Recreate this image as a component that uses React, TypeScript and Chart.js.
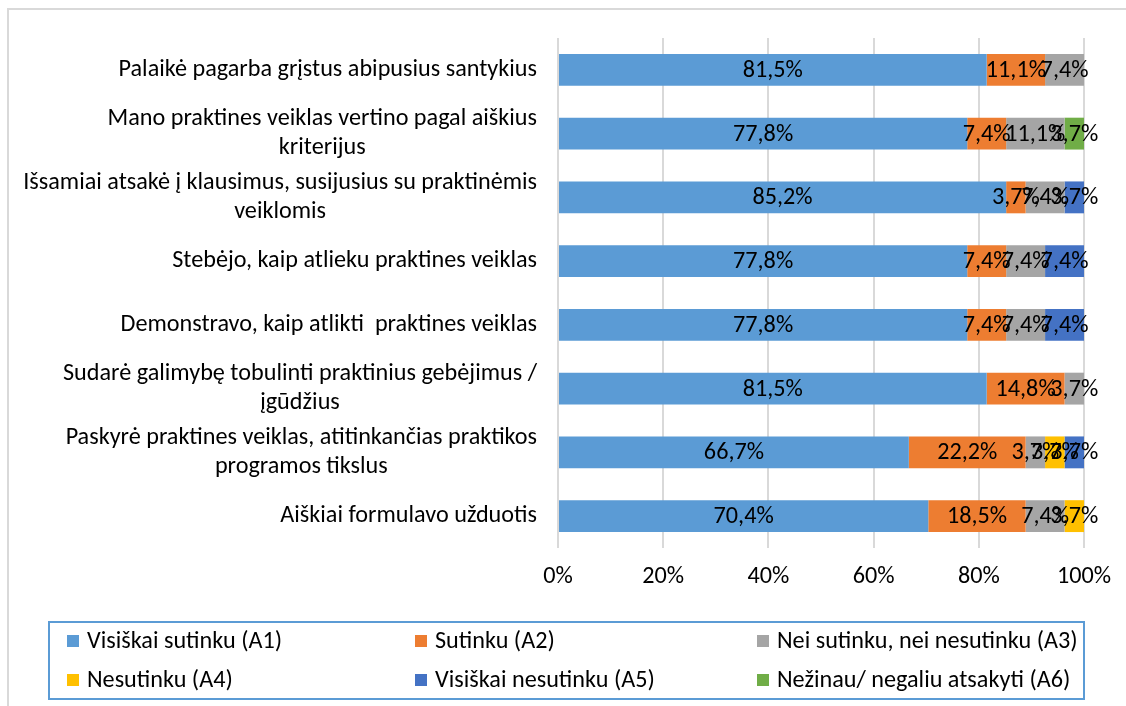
import React, { useEffect, useRef } from 'react';
import { Chart, registerables } from 'chart.js';

Chart.register(...registerables);

const categories: string[][] = [
  ['Palaikė pagarba grįstus abipusius santykius'],
  ['Mano praktines veiklas vertino pagal aiškius', 'kriterijus'],
  ['Išsamiai atsakė į klausimus, susijusius su praktinėmis', 'veiklomis'],
  ['Stebėjo, kaip atlieku praktines veiklas'],
  ['Demonstravo, kaip atlikti  praktines veiklas'],
  ['Sudarė galimybę tobulinti praktinius gebėjimus /', 'įgūdžius'],
  ['Paskyrė praktines veiklas, atitinkančias praktikos', 'programos tikslus'],
  ['Aiškiai formulavo užduotis'],
];

const seriesNames = [
  'Visiškai sutinku (A1)',
  'Sutinku (A2)',
  'Nei sutinku, nei nesutinku (A3)',
  'Nesutinku (A4)',
  'Visiškai nesutinku (A5)',
  'Nežinau/ negaliu atsakyti (A6)',
];

const seriesColors = ['#5b9bd5', '#ed7d31', '#a5a5a5', '#ffc000', '#4472c4', '#70ad47'];

const a1 = [81.5, 77.8, 85.2, 77.8, 77.8, 81.5, 66.7, 70.4];
const a2 = [11.1, 7.4, 3.7, 7.4, 7.4, 14.8, 22.2, 18.5];
const a3 = [7.4, 11.1, 7.4, 7.4, 7.4, 3.7, 3.7, 7.4];
const a4 = [0, 0, 0, 0, 0, 0, 3.7, 3.7];
const a5 = [0, 0, 3.7, 7.4, 7.4, 0, 3.7, 0];
const a6 = [0, 3.7, 0, 0, 0, 0, 0, 0];
const seriesValues = [a1, a2, a3, a4, a5, a6];

const xTickValues = [0, 20, 40, 60, 80, 100];

const FAMILY = "Carlito, Lato, 'Open Sans', sans-serif";

function fitSize(text: string, target: number): number {
  const c = document.createElement('canvas').getContext('2d')!;
  c.font = `100px ${FAMILY}`;
  const w = c.measureText(text).width;
  return Math.round((100 * target / w) * 10) / 10;
}

const fmt = (v: number) => v.toFixed(1).replace('.', ',') + '%';

export default function App() {
  const ref = useRef<HTMLCanvasElement>(null);

  useEffect(() => {
    const fs = fitSize('Palaikė pagarba grįstus abipusius santykius', 419);
    const font = `${fs}px ${FAMILY}`;

    const categoryLabels = {
      id: 'categoryLabels',
      afterDraw(chart: any) {
        const ctx = chart.ctx;
        const y = chart.scales.y;
        const right = chart.chartArea.left - 21;
        const lh = 29;
        ctx.save();
        ctx.font = font;
        ctx.fillStyle = '#000';
        ctx.textAlign = 'center';
        ctx.textBaseline = 'middle';
        categories.forEach((lines, i) => {
          const cy = y.getPixelForTick(i);
          const widest = Math.max(...lines.map((l) => ctx.measureText(l).width));
          const cx = right - widest / 2;
          lines.forEach((l, j) => {
            ctx.fillText(l, cx, cy + (j - (lines.length - 1) / 2) * lh);
          });
        });
        ctx.restore();
      },
    };

    const dataLabels = {
      id: 'dataLabels',
      afterDatasetsDraw(chart: any) {
        const ctx = chart.ctx;
        ctx.save();
        ctx.font = font;
        ctx.fillStyle = '#000';
        ctx.textAlign = 'center';
        ctx.textBaseline = 'middle';
        chart.data.datasets.forEach((ds: any, di: number) => {
          const meta = chart.getDatasetMeta(di);
          meta.data.forEach((el: any, i: number) => {
            const v = ds.data[i];
            if (!v) return;
            const p = el.getCenterPoint();
            ctx.fillText(fmt(v), p.x, p.y + 1);
          });
        });
        ctx.restore();
      },
    };

    const boxLegend = {
      id: 'boxLegend',
      afterDraw(chart: any) {
        const ctx = chart.ctx;
        ctx.save();
        ctx.strokeStyle = '#5b9bd5';
        ctx.lineWidth = 2;
        ctx.strokeRect(49, 622, 1035, 77);
        ctx.font = font;
        ctx.textAlign = 'left';
        ctx.textBaseline = 'middle';
        const colX = [67, 415, 757];
        const rowY = [641, 680];
        chart.data.datasets.forEach((ds: any, i: number) => {
          const cx = colX[i % 3];
          const cy = rowY[Math.floor(i / 3)];
          ctx.fillStyle = ds.backgroundColor;
          ctx.fillRect(cx, cy - 6, 12, 12);
          ctx.fillStyle = '#000';
          ctx.fillText(ds.label, cx + 20, cy + 1);
        });
        ctx.restore();
      },
    };

    const chart = new Chart(ref.current!, {
      type: 'bar',
      data: {
        labels: categories.map((c) => c.join(' ')),
        datasets: seriesNames.map((name, i) => ({
          label: name,
          data: seriesValues[i],
          backgroundColor: seriesColors[i],
          borderWidth: 0,
          categoryPercentage: 1,
          barPercentage: 0.5,
        })),
      },
      options: {
        indexAxis: 'y',
        responsive: false,
        animation: false,
        layout: { padding: { top: 38, right: 42, left: 558, bottom: 0 } },
        plugins: { legend: { display: false }, tooltip: { enabled: false } },
        scales: {
          x: {
            stacked: true,
            min: 0,
            max: 100,
            afterFit: (s: any) => { s.height = 158; },
            afterBuildTicks: (s: any) => { s.ticks = xTickValues.map((v) => ({ value: v })); },
            ticks: {
              callback: (v: any) => v + '%',
              font: { family: FAMILY, size: fs },
              color: '#000',
              padding: 14,
              maxRotation: 0,
            },
            grid: { color: '#d9d9d9', lineWidth: 2, drawTicks: false },
            border: { display: false },
          },
          y: {
            stacked: true,
            afterFit: (s: any) => { s.width = 0; },
            ticks: { display: false },
            grid: { display: false },
            border: { display: false },
          },
        },
      },
      plugins: [dataLabels, categoryLabels, boxLegend],
    } as any);
    return () => chart.destroy();
  }, []);

  return (
    <div style={{ position: 'absolute', left: 0, top: 0, width: 1126, height: 706, background: '#fff', overflow: 'hidden' }}>
      <div style={{ position: 'absolute', left: 7, top: 8, width: 1200, height: 800, borderLeft: '2px solid #d9d9d9', borderTop: '2px solid #d9d9d9' }} />
      <canvas ref={ref} width={1126} height={706} style={{ position: 'absolute', left: 0, top: 0, width: 1126, height: 706 }} />
    </div>
  );
}
